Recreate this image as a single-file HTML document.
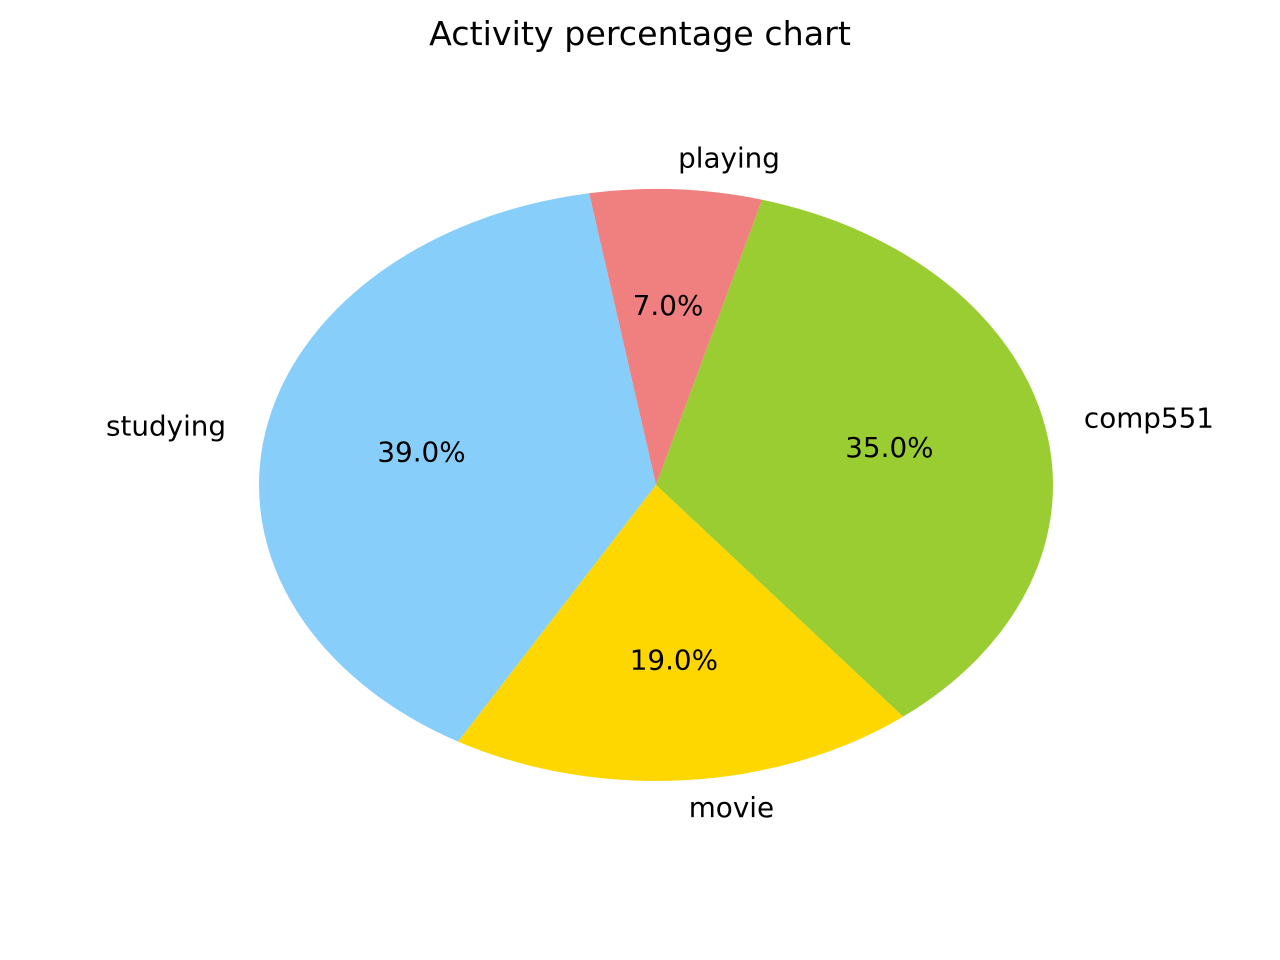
<!DOCTYPE html>
<html><head><meta charset="utf-8"><style>
html,body{margin:0;padding:0;background:#fff;}
svg{display:block;}
text{font-family:"DejaVu Sans","Liberation Sans",sans-serif;fill:#000;}
</style></head><body>
<svg id="chart" width="1280" height="960" viewBox="0 0 1280 960">
<text x="640" y="45" text-anchor="middle" font-size="33.3">Activity percentage chart</text>
<g id="slices"></g>
</svg>
<script>
const categories = ["comp551", "playing", "studying", "movie"];
const values = [35, 7, 39, 19];
const pctLabels = ["35.0%", "7.0%", "39.0%", "19.0%"];
const sliceColors = ["#9ACD32", "#F08080", "#87CEFA", "#FFD700"];

const cx = 656, cy = 485, rx = 397, ry = 296, startDeg = -51.5;
const g = document.getElementById('slices');
const NS = "http://www.w3.org/2000/svg";
const total = values.reduce((a, b) => a + b, 0);
function pt(deg, f) {
  const r = deg * Math.PI / 180;
  return [cx + f * rx * Math.cos(r), cy - f * ry * Math.sin(r)];
}
let a = startDeg;
values.forEach((v, i) => {
  const sweep = v / total * 360;
  const a2 = a + sweep;
  const p1 = pt(a, 1), p2 = pt(a2, 1);
  const large = sweep > 180 ? 1 : 0;
  const path = document.createElementNS(NS, 'path');
  path.setAttribute('d', `M${cx},${cy} L${p1[0]},${p1[1]} A${rx},${ry} 0 ${large} 0 ${p2[0]},${p2[1]} Z`);
  path.setAttribute('fill', sliceColors[i]);
  
  
  g.appendChild(path);

  const mid = a + sweep / 2;
  const lp = pt(mid, 1.1);
  const lab = document.createElementNS(NS, 'text');
  lab.setAttribute('x', lp[0]);
  lab.setAttribute('y', lp[1] - 2);
  lab.setAttribute('font-size', '27.8');
  lab.setAttribute('dominant-baseline', 'central');
  lab.setAttribute('text-anchor', Math.cos(mid * Math.PI / 180) >= 0 ? 'start' : 'end');
  lab.textContent = categories[i];
  
  
  g.appendChild(lab);

  const pp = pt(mid, 0.6);
  const pl = document.createElementNS(NS, 'text');
  pl.setAttribute('x', pp[0]);
  pl.setAttribute('y', pp[1] - 2);
  pl.setAttribute('font-size', '27.8');
  pl.setAttribute('dominant-baseline', 'central');
  pl.setAttribute('text-anchor', 'middle');
  pl.textContent = pctLabels[i];
  
  
  g.appendChild(pl);
  a = a2;
});
</script>
</body></html>
